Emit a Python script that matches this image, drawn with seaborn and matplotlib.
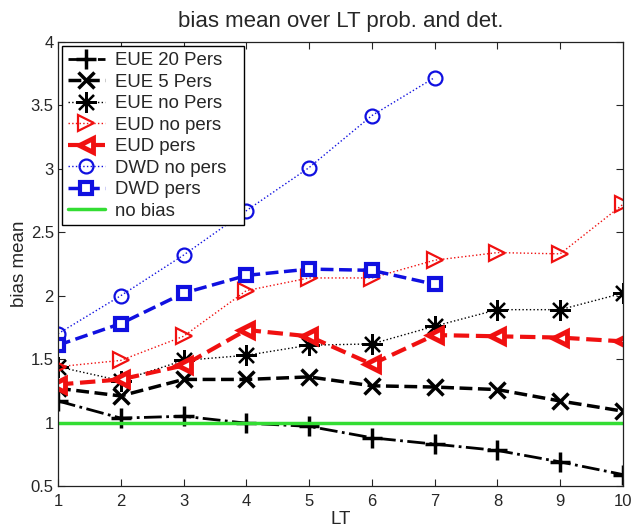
import matplotlib
matplotlib.use("Agg")
import matplotlib.pyplot as plt
import seaborn as sns

# Lead times
lt = [1, 2, 3, 4, 5, 6, 7, 8, 9, 10]
lt_dwd = [1, 2, 3, 4, 5, 6, 7]

# Mean bias per lead time
eue_20_pers = [1.17, 1.035, 1.05, 0.995, 0.97, 0.88, 0.83, 0.78, 0.69, 0.59]
eue_5_pers = [1.27, 1.21, 1.34, 1.34, 1.36, 1.29, 1.28, 1.26, 1.17, 1.09]
eue_no_pers = [1.44, 1.33, 1.49, 1.53, 1.61, 1.62, 1.76, 1.89, 1.89, 2.02]
eud_no_pers = [1.44, 1.49, 1.68, 2.04, 2.14, 2.14, 2.28, 2.34, 2.33, 2.72]
eud_pers = [1.30, 1.34, 1.45, 1.73, 1.68, 1.46, 1.69, 1.68, 1.67, 1.64]
dwd_no_pers = [1.70, 2.00, 2.32, 2.67, 3.01, 3.42, 3.72]
dwd_pers = [1.61, 1.78, 2.02, 2.16, 2.21, 2.20, 2.09]
no_bias = [1, 1, 1, 1, 1, 1, 1, 1, 1, 1]

sns.set_style("ticks")
plt.rcParams["font.family"] = ["Liberation Sans", "DejaVu Sans"]
plt.rcParams["xtick.direction"] = "in"
plt.rcParams["ytick.direction"] = "in"

fig = plt.figure(figsize=(6.35, 5.32), dpi=100)
ax = fig.add_axes([0.0913, 0.0865, 0.8897, 0.8345])

red = "#f01010"
blue = "#1010e0"
series = [
    ("EUE 20 Pers", lt, eue_20_pers, dict(color="black", linestyle="-.", lw=2.0, marker="+", markersize=15, mew=2.5, mec="black")),
    ("EUE 5 Pers", lt, eue_5_pers, dict(color="black", linestyle="--", lw=2.5, marker="x", markersize=11, mew=2.5, mec="black")),
    ("EUE no Pers", lt, eue_no_pers, dict(color="black", linestyle=":", lw=1.0, marker=(8, 2, 0), markersize=15, mew=1.6, mec="black")),
    ("EUD no pers", lt, eud_no_pers, dict(color=red, linestyle=":", lw=1.0, marker=">", markersize=11, mew=1.6, mec=red, mfc="none")),
    ("EUD pers", lt, eud_pers, dict(color=red, linestyle="--", lw=3.0, marker="<", markersize=10, mew=3.5, mec=red, mfc="white")),
    ("DWD no pers", lt_dwd, dwd_no_pers, dict(color=blue, linestyle=":", lw=1.0, marker="o", markersize=10, mew=1.6, mec=blue, mfc="none")),
    ("DWD pers", lt_dwd, dwd_pers, dict(color=blue, linestyle="--", lw=2.5, marker="s", markersize=8, mew=3.0, mec=blue, mfc="white")),
    ("no bias", lt, no_bias, dict(color="#33dd33", linestyle="-", lw=2.5, marker=None)),
]

for label, xs, ys, kw in series:
    sns.lineplot(x=xs, y=ys, ax=ax, label=label, **kw)

ax.set_xlim(1, 10)
ax.set_ylim(0.5, 4)
ax.set_xticks(lt)
ax.set_yticks([0.5, 1, 1.5, 2, 2.5, 3, 3.5, 4])
ax.set_yticklabels(["0.5", "1", "1.5", "2", "2.5", "3", "3.5", "4"])
ax.tick_params(axis="both", which="both", top=True, right=True, labelsize=12, length=5, width=0.8)
ax.tick_params(axis="x", pad=6)
ax.tick_params(axis="y", pad=3)
for s in ax.spines.values():
    s.set_visible(True)
    s.set_color("#222222")
    s.set_linewidth(0.9)

ax.set_title("bias mean over LT prob. and det.", fontsize=16, pad=11)
ax.set_xlabel("LT", fontsize=13.5, labelpad=1)
ax.set_ylabel("bias mean", fontsize=13.5, labelpad=2)

leg = ax.legend(loc="upper left", bbox_to_anchor=(0.007, 0.0, 0.322, 0.99), mode="expand",
                fontsize=13.4, frameon=True, fancybox=False,
                edgecolor="black", framealpha=1, borderpad=0.3, labelspacing=0.24,
                handlelength=2.0, handletextpad=0.55, borderaxespad=0.0)
leg.get_frame().set_linewidth(1.0)

fig.savefig("out.png", dpi=100)
